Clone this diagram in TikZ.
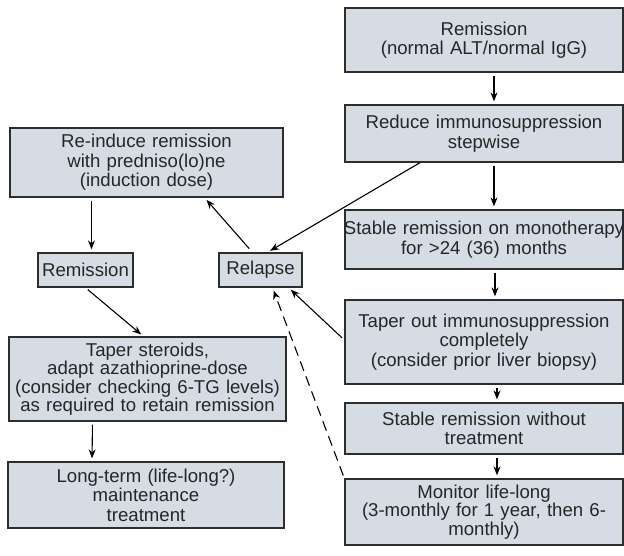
\documentclass[tikz,border=0pt]{standalone}
\usepackage{fontspec}
\setmainfont{Liberation Sans}
\usetikzlibrary{arrows.meta}
\definecolor{boxfill}{RGB}{214,220,228}
\definecolor{boxline}{RGB}{45,45,45}

\begin{document}
\begin{tikzpicture}[x=1pt,y=-1pt,>={Stealth[length=9pt,width=7pt]},line width=1.1pt,
  box/.style={draw=boxline,fill=boxfill,line width=1.3pt,inner xsep=0pt,inner ysep=0pt,
    align=center,text=black!85,font=\fontsize{18.6}{19.5}\selectfont},
  conn/.style={->,shorten >=3pt,shorten <=3pt}]
  \useasboundingbox (0,0) rectangle (624,555);

  % right column
  \node[box,minimum width=278pt,minimum height=64pt,text width=278pt] (remN) at (484,40)
    {Remission\\(normal ALT/normal IgG)};
  \node[box,minimum width=278pt,minimum height=57pt,text width=278pt] (reduce) at (484,133.5)
    {Reduce immunosuppression\\stepwise};
  \node[box,minimum width=278pt,minimum height=59pt,text width=278pt] (stableMono) at (484,239.5)
    {\makebox[278pt]{Stable remission on monotherapy}\\for >24 (36) months};
  \node[box,minimum width=278pt,minimum height=84pt,text width=278pt] (taperOut) at (484,342)
    {Taper out immunosuppression\\completely\\(consider prior liver biopsy)};
  \node[box,minimum width=278pt,minimum height=51pt,text width=278pt] (stableFree) at (484,428.5)
    {Stable remission without\\treatment};
  \node[box,minimum width=278pt,minimum height=66pt,text width=278pt,
    font=\fontsize{18.6}{18.5}\selectfont] (monitor) at (484,512)
    {Monitor life-long\\(3-monthly for 1 year, then 6-\\monthly)};

  % left column
  \node[box,minimum width=273pt,minimum height=69pt,text width=273pt] (reinduce) at (146.5,162.5)
    {Re-induce remission\\with predniso(lo)ne\\(induction dose)};
  \node[box,minimum width=95pt,minimum height=34pt,text width=95pt] (remis) at (85.5,270)
    {Remission};
  \node[box,minimum width=83pt,minimum height=34pt,text width=83pt] (relapse) at (260.5,270)
    {Relapse};
  \node[box,minimum width=277pt,minimum height=84pt,text width=277pt,
    font=\fontsize{18.6}{18.5}\selectfont] (taperSteroids) at (147.5,379)
    {Taper steroids,\\adapt azathioprine-dose\\(consider checking 6-TG levels)\\as required to retain remission};
  \node[box,minimum width=276pt,minimum height=66pt,text width=276pt] (longTerm) at (146,495)
    {Long-term (life-long?)\\maintenance\\treatment};

  % main sequence
  \draw[conn] ([xshift=10pt]remN.south) -- ([xshift=10pt]reduce.north);
  \draw[conn] ([xshift=10pt]reduce.south) -- ([xshift=10pt]stableMono.north);
  \draw[conn] ([xshift=11pt]stableMono.south) -- ([xshift=11pt]taperOut.north);
  \draw[conn] ([xshift=13pt]taperOut.south) -- ([xshift=13pt]stableFree.north);
  \draw[conn] ([xshift=13pt]stableFree.south) -- ([xshift=13pt]monitor.north);

  % relapse branch
  \draw[conn,shorten <=0pt] ([xshift=-64pt]reduce.south) -- ([xshift=7pt]relapse.north);
  \draw[conn,shorten <=5pt] ([xshift=-8pt]relapse.north) -- ([xshift=58pt]reinduce.south);
  \draw[conn] ([xshift=6pt]remis.north |- reinduce.south) -- ([xshift=6pt]remis.north);
  \draw[conn] (remis.south) -- ([xshift=-4pt]taperSteroids.north);
  \draw[conn] ([yshift=2pt]taperOut.west) -- ([xshift=28pt]relapse.south);
  \draw[conn,dashed,dash pattern=on 10pt off 6pt] (monitor.north west) -- ([xshift=12pt]relapse.south);
  \draw[conn] ([xshift=-55pt]taperSteroids.south) -- ([xshift=-54pt]longTerm.north);
\end{tikzpicture}
\end{document}
